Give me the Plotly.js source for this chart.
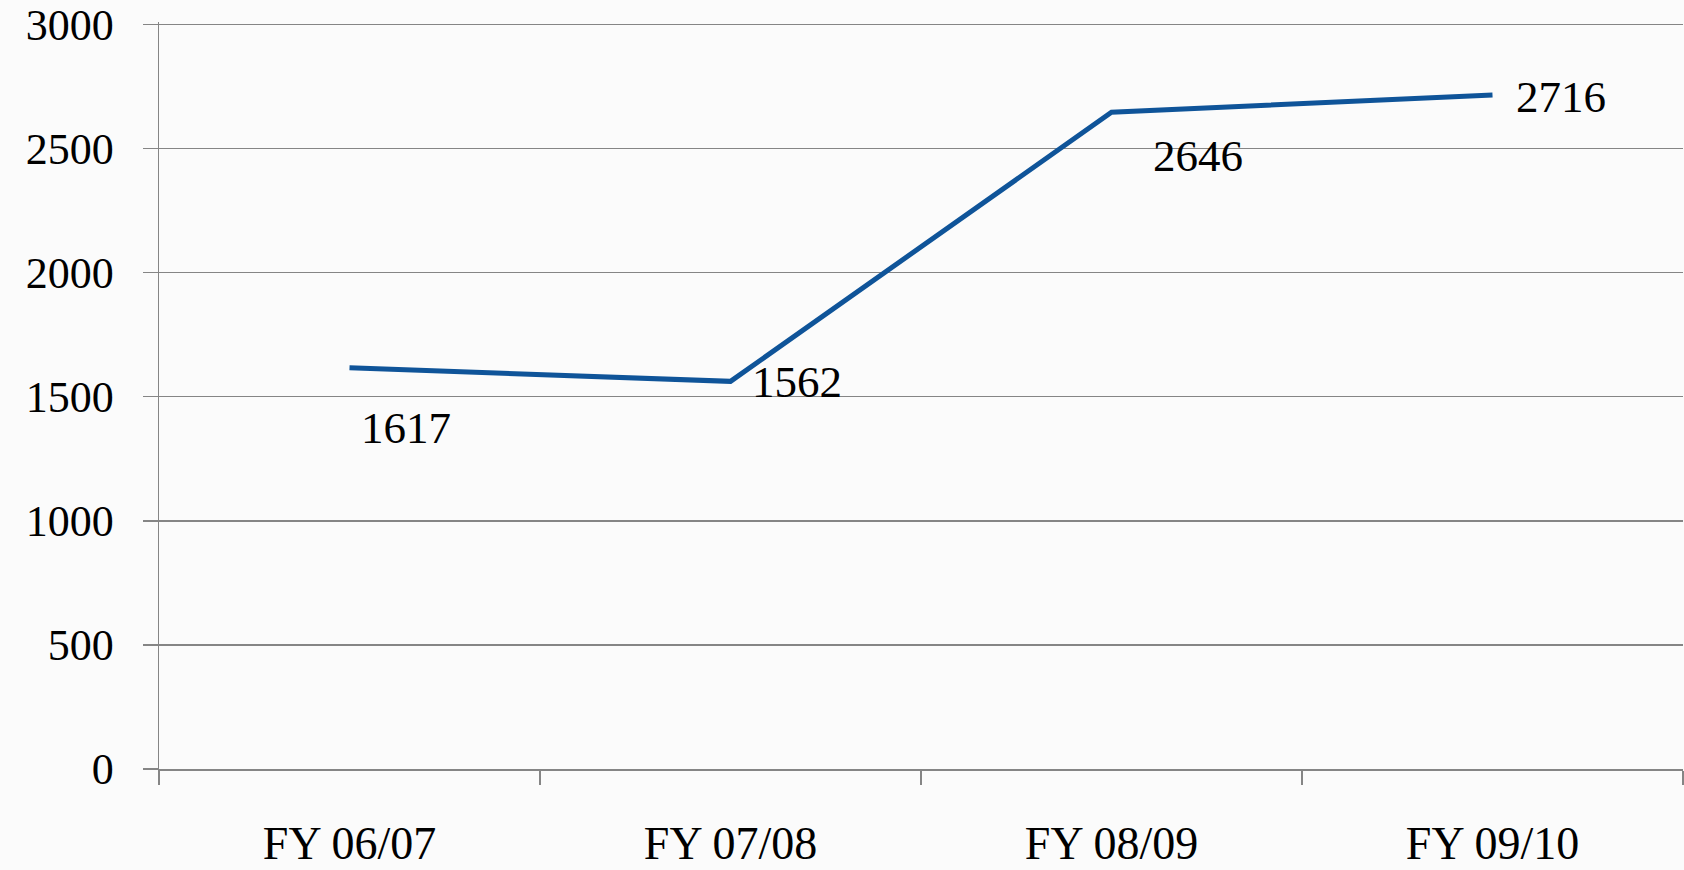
<!DOCTYPE html>
<html>
<head>
<meta charset="utf-8">
<script src="https://cdn.plot.ly/plotly-3.0.1.min.js"></script>
<style>
html,body{margin:0;padding:0;background:#fbfbfb;}
#chart{width:1684px;height:870px;}
</style>
</head>
<body>
<div id="chart"></div>
<script>
const categories = ["FY 06/07", "FY 07/08", "FY 08/09", "FY 09/10"];
const values = [1617, 1562, 2646, 2716];
const yTicks = [0, 500, 1000, 1500, 2000, 2500, 3000];

// label placement (pixels relative to each point)
const labelShift = [[56, -60], [66, -1], [86, -44], [68, -2]];

const FONT = "Liberation Serif, DejaVu Serif, serif";
const GRID = "#858585";

const trace = {
  x: categories,
  y: values,
  type: "scatter",
  mode: "lines",
  line: {color: "#0F5499", width: 5},
  hoverinfo: "x+y"
};

const annotations = values.map((v, i) => ({
  x: categories[i],
  y: v,
  text: String(v),
  showarrow: false,
  xshift: labelShift[i][0],
  yshift: labelShift[i][1],
  font: {family: FONT, size: 45, color: "#000"}
}));

const layout = {
  width: 1684,
  height: 870,
  margin: {l: 159, r: 1, t: 22, b: 101},
  paper_bgcolor: "#fbfbfb",
  plot_bgcolor: "#fbfbfb",
  showlegend: false,
  xaxis: {
    type: "category",
    range: [-0.5, 3.5],
    tickson: "boundaries",
    ticks: "outside",
    ticklen: 14,
    tickwidth: 1.5,
    tickcolor: GRID,
    showgrid: false,
    showline: true,
    linecolor: GRID,
    linewidth: 1.5,
    ticklabelstandoff: 33,
    tickfont: {family: FONT, size: 46, color: "#000"}
  },
  yaxis: {
    range: [0, 3010],
    tickvals: yTicks,
    ticktext: yTicks.map(String),
    ticks: "outside",
    ticklen: 15,
    tickwidth: 1.5,
    tickcolor: GRID,
    showgrid: true,
    gridcolor: GRID,
    gridwidth: 1.5,
    zeroline: false,
    showline: true,
    linecolor: GRID,
    linewidth: 1.5,
    ticklabelstandoff: 20,
    ticklabeloverflow: "allow",
    tickfont: {family: FONT, size: 44, color: "#000"}
  },
  annotations: annotations
};

Plotly.newPlot("chart", [trace], layout, {displayModeBar: false, staticPlot: true});
</script>
</body>
</html>
